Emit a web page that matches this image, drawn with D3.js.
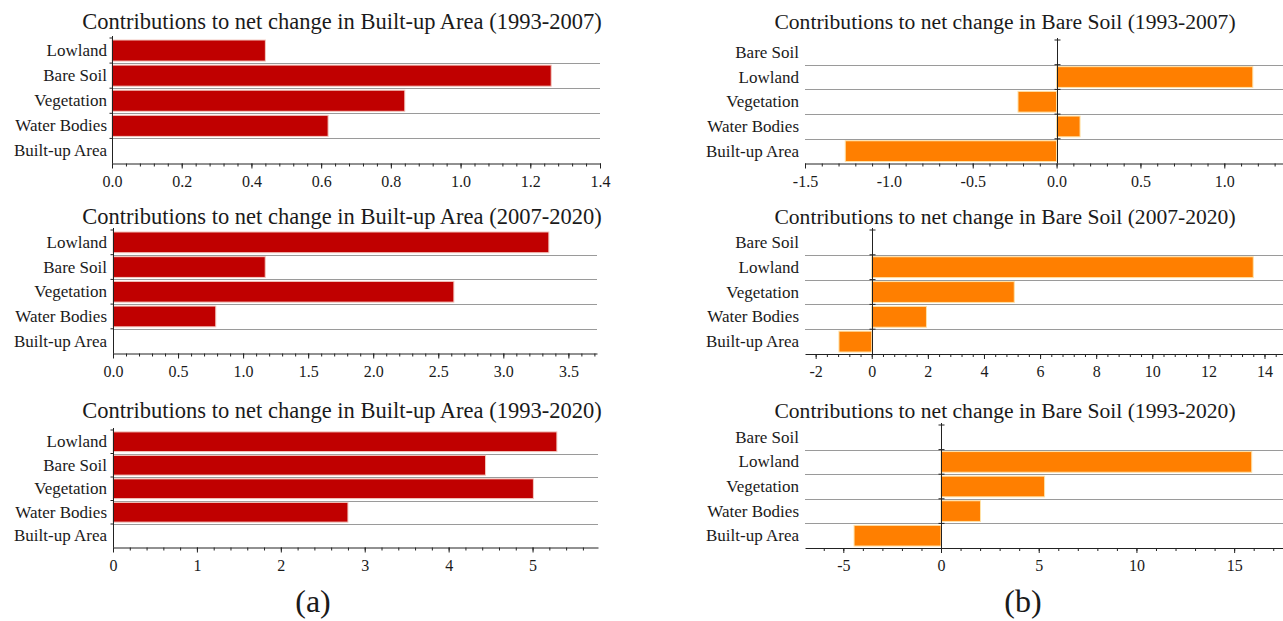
<!DOCTYPE html>
<html>
<head>
<meta charset="utf-8">
<script src="https://d3js.org/d3.v7.min.js"></script>
<style>
  body { margin: 0; background: #fff; }
</style>
</head>
<body>
<script>

// categories
var catsA = ["Lowland", "Bare Soil", "Vegetation", "Water Bodies", "Built-up Area"];
var catsB = ["Bare Soil", "Lowland", "Vegetation", "Water Bodies", "Built-up Area"];

// titles
var titlesA = [
  "Contributions to net change in Built-up Area (1993-2007)",
  "Contributions to net change in Built-up Area (2007-2020)",
  "Contributions to net change in Built-up Area (1993-2020)"
];
var titlesB = [
  "Contributions to net change in Bare Soil (1993-2007)",
  "Contributions to net change in Bare Soil (2007-2020)",
  "Contributions to net change in Bare Soil (1993-2020)"
];

// values (same order as the categories)
var valsA1 = [0.44, 1.26, 0.84, 0.62, 0];
var valsA2 = [3.35, 1.17, 2.62, 0.79, 0];
var valsA3 = [5.29, 4.44, 5.01, 2.80, 0];
var valsB1 = [0, 1.17, -0.23, 0.14, -1.26];
var valsB2 = [0, 13.6, 5.08, 1.95, -1.17];
var valsB3 = [0, 15.9, 5.30, 2.02, -4.45];

// axis extents and tick steps
var domainsA = [[0, 1.4], [0, 3.72], [0, 5.78]];
var majorA = [0.2, 0.5, 1];
var minorA = [0.04, 0.1, 0.2];
var decimalsA = [1, 1, 0];
var domainsB = [[-1.5, 1.35], [-2.38, 14.66], [-6.96, 17.5]];
var majorB = [0.5, 2, 5];
var minorB = [0.1, 0.4, 1];
var decimalsB = [1, 0, 0];

var FONT = "'Liberation Serif', 'Times New Roman', serif";
var W = 1283, H = 621;
var svg = d3.select("body").append("svg").attr("width", W).attr("height", H)
    .attr("font-family", FONT);

function stepTicks(dom, step) {
  var a = Math.ceil(dom[0] / step - 1e-9), b = Math.floor(dom[1] / step + 1e-9);
  return d3.range(a, b + 1).map(k => +(k * step).toFixed(6));
}

function drawPanel(o) {
  var g = svg.append("g");
  var x = d3.scaleLinear().domain(o.domain).range(o.xr);
  var y = d3.scaleBand().domain(o.cats).range(o.yr).padding(0);
  var bw = y.bandwidth();

  g.append("text").attr("x", o.tx).attr("y", o.ty)
      .attr("text-anchor", "middle").attr("font-family", FONT).attr("font-size", o.tsize)
      .attr("fill", "#1a1a1a").text(o.title);

  // row separators
  g.selectAll("line.sep").data(o.cats.slice(1)).enter().append("line")
      .attr("x1", o.xr[0]).attr("x2", o.xr[1])
      .attr("y1", d => Math.round(y(d)) + 0.5).attr("y2", d => Math.round(y(d)) + 0.5)
      .attr("stroke", "#9a9a9a").attr("stroke-width", 1);

  // bars
  var data = o.cats.map((c, i) => ({c: c, v: o.vals[i]})).filter(d => d.v !== 0);
  g.selectAll("rect.bar").data(data).enter().append("rect")
      .attr("x", d => x(Math.min(0, d.v)))
      .attr("width", d => Math.abs(x(d.v) - x(0)))
      .attr("y", d => y(d.c) + bw * 0.08)
      .attr("height", bw * 0.84)
      .attr("fill", o.color).attr("stroke", o.edge).attr("stroke-width", 1);

  // vertical axis at zero
  var x0 = Math.round(x(0)) + 0.5;
  g.append("line").attr("x1", x0).attr("x2", x0)
      .attr("y1", o.yr[0] - 2).attr("y2", o.yr[1])
      .attr("stroke", "#222").attr("stroke-width", 1);
  g.selectAll("line.yt").data(o.cats).enter().append("line")
      .attr("x1", x0 - 3).attr("x2", x0 + (o.neg ? 3 : 0))
      .attr("y1", d => y(d)).attr("y2", d => y(d))
      .attr("stroke", "#222");

  // category labels
  g.selectAll("text.lab").data(o.cats).enter().append("text")
      .attr("x", o.lx).attr("y", d => y(d) + bw / 2)
      .attr("text-anchor", "end").attr("dominant-baseline", "central")
      .attr("font-family", FONT).attr("font-size", 17).attr("fill", "#1a1a1a")
      .text(d => d);

  // bottom axis
  var ax = g.append("g").attr("transform", "translate(0," + o.yr[1] + ")");
  ax.call(d3.axisBottom(x).tickValues(stepTicks(o.domain, o.minor)).tickSize(3).tickSizeOuter(0).tickFormat(""));
  ax.select(".domain").remove();
  var ax2 = g.append("g").attr("transform", "translate(0," + o.yr[1] + ")");
  ax2.call(d3.axisBottom(x).tickValues(stepTicks(o.domain, o.major)).tickSize(5).tickSizeOuter(0)
      .tickPadding(7).tickFormat(d => d.toFixed(o.dec)));
  ax2.attr("font-family", FONT).attr("font-size", 16);
  ax2.select(".domain").attr("stroke", "#222");
  ax.selectAll("line").attr("stroke", "#222");
  ax2.selectAll("line").attr("stroke", "#222");
  ax2.selectAll("text").attr("fill", "#1a1a1a");
}

var rowsA = [[38, 163.5], [230, 353.5], [430, 547.5]];
var xrA = [[112, 600], [113, 597], [113, 598]];
var rowsB = [[40, 163.5], [230, 354], [425, 548]];
var titleY = [29, 224, 418];
var valsA = [valsA1, valsA2, valsA3];
var valsB = [valsB1, valsB2, valsB3];

for (var i = 0; i < 3; i++) {
  drawPanel({
    cats: catsA, vals: valsA[i], title: titlesA[i], domain: domainsA[i],
    major: majorA[i], minor: minorA[i], dec: decimalsA[i],
    xr: xrA[i], yr: rowsA[i], tx: 342, ty: titleY[i], tsize: 22.5, lx: 107,
    color: "#c00000", edge: "#f3c9c0", neg: false
  });
  drawPanel({
    cats: catsB, vals: valsB[i], title: titlesB[i], domain: domainsB[i],
    major: majorB[i], minor: minorB[i], dec: decimalsB[i],
    xr: [805, 1283], yr: rowsB[i], tx: 1005, ty: titleY[i], tsize: 21.6, lx: 799,
    color: "#ff7f00", edge: "#ffe2a8", neg: true
  });
}

svg.append("text").attr("x", 313).attr("y", 612).attr("text-anchor", "middle")
    .attr("font-family", FONT).attr("font-size", 32).attr("fill", "#1a1a1a").text("(a)");
svg.append("text").attr("x", 1023).attr("y", 612).attr("text-anchor", "middle")
    .attr("font-family", FONT).attr("font-size", 32).attr("fill", "#1a1a1a").text("(b)");

</script>
</body>
</html>
